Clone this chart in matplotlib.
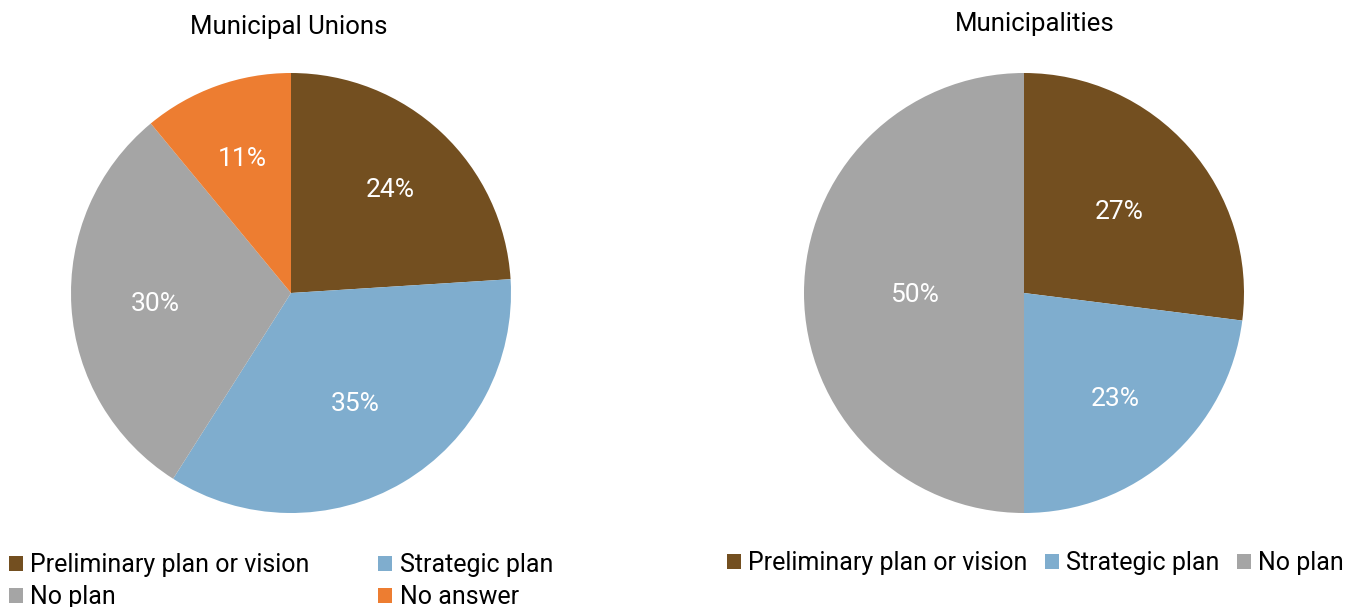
import matplotlib
matplotlib.use("Agg")
import matplotlib.pyplot as plt
import numpy as np

plt.rcParams['font.family'] = ['Roboto', 'DejaVu Sans']

# Data
union_labels = ["Preliminary plan or vision", "Strategic plan", "No plan", "No answer"]
union_values = [24, 35, 30, 11]
muni_labels = ["Preliminary plan or vision", "Strategic plan", "No plan"]
muni_values = [27, 23, 50]

colors = {
    "Preliminary plan or vision": "#734F20",
    "Strategic plan": "#7FADCE",
    "No plan": "#A5A5A5",
    "No answer": "#ED7D31",
}

W, H = 1351, 607
fig = plt.figure(figsize=(W / 100, H / 100), dpi=100)


def pie_axes(cx, cy, r):
    ax = fig.add_axes([(cx - r) / W, (H - cy - r) / H, 2 * r / W, 2 * r / H])
    ax.set_xlim(-1, 1)
    ax.set_ylim(-1, 1)
    ax.set_aspect("equal")
    ax.axis("off")
    return ax


def draw_pie(ax, labels, values, dists):
    wedges, _ = ax.pie(values, colors=[colors[l] for l in labels], startangle=90,
                       counterclock=False, radius=1, center=(0, 0), frame=False)
    total = sum(values)
    cum = 0
    for v, d in zip(values, dists):
        mid = np.deg2rad(90 - (cum + v / 2) / total * 360)
        cum += v
        ax.text(d * np.cos(mid), d * np.sin(mid), f"{v}%", color="white",
                fontsize=19, ha="center", va="center_baseline")
    ax.set_xlim(-1, 1)
    ax.set_ylim(-1, 1)
    return wedges


ax1 = pie_axes(291, 293, 220)
w1 = draw_pie(ax1, union_labels, union_values, [0.66, 0.575, 0.62, 0.66])
ax2 = pie_axes(1024, 293, 220)
w2 = draw_pie(ax2, muni_labels, muni_values, [0.575, 0.63, 0.5])

fig.text(289 / W, 1 - 27 / H, "Municipal Unions", ha="center", va="center", fontsize=18.5)
fig.text(1035 / W, 1 - 24 / H, "Municipalities", ha="center", va="center", fontsize=18.5)

leg_kw = dict(frameon=False, fontsize=18, handlelength=0.55, handleheight=0.55,
              handletextpad=0.3, borderpad=0, borderaxespad=0)
# two columns, filled row by row
order = [0, 2, 1, 3]
fig.legend([w1[i] for i in order], [union_labels[i] for i in order], ncol=2,
           loc="upper left", bbox_to_anchor=(9 / W, 1 - 553 / H), columnspacing=2.75,
           labelspacing=0.32, **leg_kw)
fig.legend(w2, muni_labels, ncol=3, loc="upper left",
           bbox_to_anchor=(727 / W, 1 - 551 / H), columnspacing=0.7, **leg_kw)

fig.savefig("out.png", dpi=100)
